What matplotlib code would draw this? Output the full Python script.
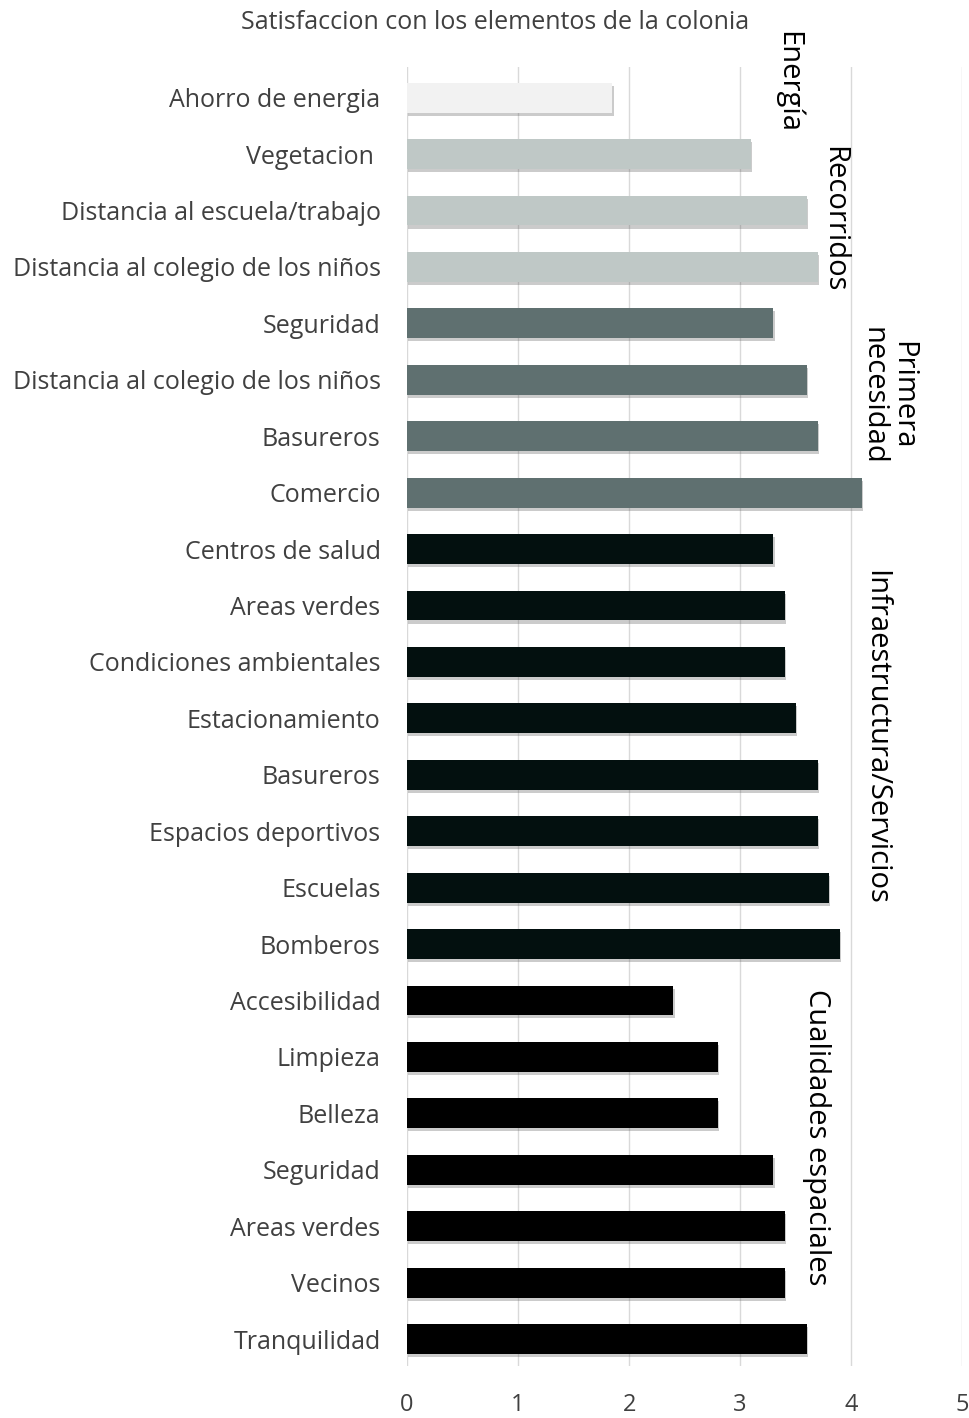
import numpy as np
import matplotlib.pyplot as plt
import matplotlib.patheffects as pe

plt.rcParams['font.family'] = ['Open Sans', 'DejaVu Sans']

labels = ['Ahorro de energia', 'Vegetacion ', 'Distancia al escuela/trabajo',
          'Distancia al colegio de los niños', 'Seguridad',
          'Distancia al colegio de los niños', 'Basureros', 'Comercio',
          'Centros de salud', 'Areas verdes', 'Condiciones ambientales',
          'Estacionamiento', 'Basureros', 'Espacios deportivos', 'Escuelas',
          'Bomberos', 'Accesibilidad', 'Limpieza', 'Belleza', 'Seguridad',
          'Areas verdes', 'Vecinos', 'Tranquilidad']
values = [1.85, 3.1, 3.6, 3.7, 3.3, 3.6, 3.7, 4.1, 3.3, 3.4, 3.4, 3.5, 3.7,
          3.7, 3.8, 3.9, 2.4, 2.8, 2.8, 3.3, 3.4, 3.4, 3.6]
groups = ['Energía'] + ['Recorridos'] * 3 + ['Primera\nnecesidad'] * 4 + \
         ['Infraestructura/Servicios'] * 8 + ['Cualidades espaciales'] * 7
group_colors = {'Energía': '#f2f2f2', 'Recorridos': '#bfc8c6',
                'Primera\nnecesidad': '#5f7070',
                'Infraestructura/Servicios': '#03100f',
                'Cualidades espaciales': '#000000'}
# group label placement (data units)
group_x = {'Energía': 3.43, 'Recorridos': 3.84, 'Primera\nnecesidad': 4.33,
           'Infraestructura/Servicios': 4.22, 'Cualidades espaciales': 3.69}
group_y = {'Energía': -0.27, 'Recorridos': 2.16, 'Primera\nnecesidad': 5.28,
           'Infraestructura/Servicios': 11.33, 'Cualidades espaciales': 18.42}

fig = plt.figure(figsize=(9.69, 14.18), dpi=100)
ax = fig.add_axes([0.42, 0.037, 0.573, 0.916])

y = np.arange(len(labels))
cols = [group_colors[g] for g in groups]
bars = ax.barh(y, values, height=0.53, color=cols, zorder=3)
for b in bars:
    b.set_path_effects([pe.SimplePatchShadow(offset=(0.8, -2.2), shadow_rgbFace='#555555', alpha=0.3),
                        pe.Normal()])

ax.set_xlim(0, 5)
ax.set_ylim(len(labels) - 0.53, -0.55)
ax.set_xticks(range(6))
ax.set_yticks(y)
ax.set_yticklabels(labels)
ax.tick_params(axis='y', length=0, pad=19, labelsize=18, labelcolor='#404040')
ax.tick_params(axis='x', length=0, pad=20, labelsize=17, labelcolor='#404040')
ax.grid(axis='x', color='#d9d9d9', linewidth=1, zorder=0)
for s in ax.spines.values():
    s.set_visible(False)

for g in group_colors:
    ax.text(group_x[g], group_y[g], g, rotation=-90, ha='center', va='center',
            fontsize=21, color='black', linespacing=1.0, zorder=4)

fig.text(0.511, 0.984, 'Satisfaccion con los elementos de la colonia',
         ha='center', va='center', fontsize=18, color='#404040')

fig.savefig('out.png', dpi=100)
